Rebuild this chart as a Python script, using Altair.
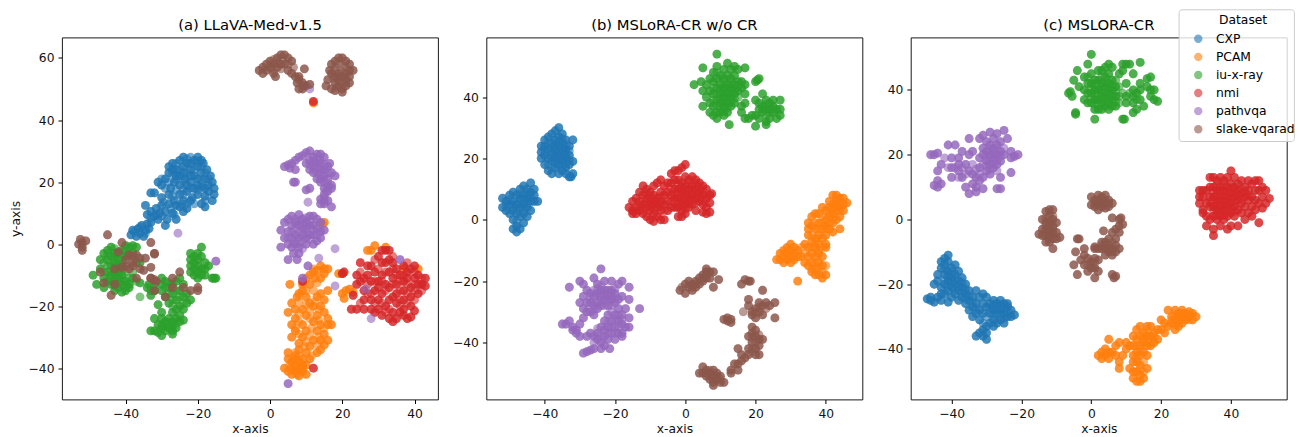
import altair as alt
import pandas as pd

DATASETS = ["CXP", "PCAM", "iu-x-ray", "nmi", "pathvqa", "slake-vqarad"]
COLORS = ["#1f77b4", "#ff7f0e", "#2ca02c", "#d62728", "#9467bd", "#8c564b"]

A_CXP = [(-38.5,3),(-38,4.5),(-37,2.5),(-36.5,5),(-36,3.5),(-35,2.5),(-35.5,6),(-34.5,4.5),(-34,6.5),(-33.5,5),(-33,7),(-34,9.5),(-33,10.5),(-32,9),(-31,8),(-30.5,10),(-31.5,11.5),(-30,12.5),(-29,10.5),(-28.5,8),(-29,6),(-28,13),(-27,10),(-26,8),(-26.5,14),(-25,12),(-24,10.5),(-23,11.5),(-22,14),(-25,16),(-28,16),(-30,15),(-33,16.5),(-32,16.5),(-34.5,12.5),(-31,20),(-30,19),(-29,21),(-28,23),(-27.5,18),(-26.5,20),(-28,25),(-27,26),(-26,24),(-25,27),(-25,22),(-25,19),(-24,25),(-24,28),(-23,26),(-23.5,21),(-23,17),(-22,24),(-22,20),(-21.5,15),(-21,27),(-21,22),(-21,18),(-20,28),(-20,25),(-20,21),(-20,16),(-19,27),(-19,23),(-19,18.5),(-19,13),(-18.5,26),(-18,21),(-18,15.5),(-18,12),(-17.5,24),(-17,19),(-17,17),(-16.5,22),(-16,14),(-16,20),(-15.5,18),(-15.5,16),(-26,12.5),(-24,14),(-27,24),(-22,26),(-20,19),(-24,23),(-22,22),(-18,18),(-23,19),(-26,22)]
A_CXP_FILL = [(-37.5,4),(-36,5.5),(-34.5,3.5),(-33,8.5),(-31.5,9.5),(-30,9),(-29.5,13.5),(-27.5,11.5),(-26.5,9.5),(-24.5,13),(-23,13),(-21,13),(-27,15.5),(-24,16),(-26,17.5),(-24,18),(-29,18),(-28,20),(-30,21),(-26,21),(-24,20.5),(-22,18),(-20,17.5),(-18,14),(-27,22.5),(-25,24),(-23,23),(-21,24),(-19,25),(-19,20.5),(-17,21),(-26,26),(-23,27.5),(-22,28),(-20,26.5),(-18,23)]
A_PCAM = [(12,45.5),(15,7),(14.5,6.5),(27,-2),(28,-2),(29,-0.5),(32,-1),(37,-8),(41,-8),(19,-9.5),(20,-9.5),(20,-16),(21,-15),(22,-14.5),(23,-15.5),(20.5,-17.5),(5.5,-13),(14,-7),(15,-8),(16,-8),(13,-8.5),(12,-9),(11,-10),(10,-11),(12.5,-11),(14,-11),(9,-13),(11,-13),(15,-9.5),(8,-16),(9,-15),(10,-17),(7.5,-17),(14,-16),(16,-15),(13,-17),(11,-19),(6,-19),(7,-21),(9,-21),(12,-20),(14,-20),(15,-18),(5,-22),(7,-24),(10,-23),(13,-23),(15,-22),(16,-24),(6,-26),(9,-26),(12,-25),(14,-26),(16,-26),(17,-26),(7,-28),(10,-28),(13,-28),(15,-29),(6,-30),(9,-30),(12,-31),(14,-31),(16,-31),(8,-32),(11,-33),(15,-32.5),(8,-34),(10,-35),(13,-35),(14,-34),(5,-35),(7,-36),(9,-37),(11,-37),(6,-38),(8,-38),(10,-39),(4,-40),(5,-41),(6,-40),(7,-41),(8,-40),(9,-41),(10,-42),(6,-42),(8,-42.5),(9,-39),(5,-37),(7,-39)]
A_PCAM_FILL = [(12,-8),(13,-12.5),(10,-15),(12,-15),(8,-18.5),(10,-19.5),(12.5,-18.5),(8,-22.5),(11,-21.5),(13.5,-21),(8,-25),(11,-24),(13.5,-24.5),(7,-27),(11.5,-27),(15,-27),(8,-29),(11,-29.5),(13.5,-30),(10,-31.5),(13,-32.5),(9.5,-33),(7,-35),(11.5,-36),(8,-36),(6.5,-37),(9,-40),(7.5,-42),(5.5,-39),(7,-37.5)]
A_XRAY = [(-49,-10),(-48,-13),(-47,-5),(-47,-8),(-46,-3),(-46,-11),(-46,-14),(-45,-2),(-45,-5),(-45,-9),(-45,-12),(-44,-1),(-44,-4),(-44,-7),(-44,-10),(-44,-13),(-43,-3),(-43,-6),(-43,-9),(-43,-12),(-43,-15),(-42,-5),(-42,-8),(-42,-11),(-42,-14),(-41,-2),(-41,-7),(-41,-10),(-41,-13),(-41,-15.5),(-40,-0.5),(-40,-4),(-40,-12),(-40,-15),(-39,-1),(-39,-13),(-39,-14),(-38,-0.5),(-38,-3),(-38,-11),(-37,-1),(-37,-6),(-36,-6),(-36,-12.5),(-36,-17),(-34,-14),(-33.5,-13),(-33,-15),(-33,-16.5),(-32,-13),(-32,-15),(-30,-11),(-30,-13),(-29,-12),(-30,-15),(-28,-14),(-29,-17),(-27,-13),(-27,-16),(-26,-12),(-26,-18),(-25,-15),(-25,-11),(-25,-20),(-24,-17),(-24,-13),(-24,-21),(-23,-19),(-23,-16),(-22,-18),(-31,-19.5),(-32,-24),(-30,-22),(-28,-19),(-27,-22),(-26,-21),(-30,-24),(-29,-25),(-28,-24),(-27,-25),(-26,-24),(-25,-23),(-25,-25),(-31,-26),(-30,-27),(-29,-28),(-28,-27),(-27,-28),(-26,-27),(-33,-28),(-32,-28),(-31,-28.5),(-30,-29.5),(-27,-29),(-24,-24.5),(-22,-3),(-22,-5),(-22,-7),(-22,-9),(-21,-4),(-21,-6),(-21,-8),(-21,-10),(-20,-5),(-20,-7),(-20,-9),(-20,-11),(-19,-1),(-20,-3),(-19,-4),(-19,-8),(-19,-10),(-18,-6),(-18,-8),(-18,-10),(-17,-7),(-16,-11),(-15.5,-11),(-15,-11)]
A_XRAY_FILL = [(-46,-6),(-46,-9),(-45,-7),(-45,-3.5),(-44,-11.5),(-43,-1.5),(-43,-4.5),(-43,-7.5),(-43,-10.5),(-43,-13.5),(-42,-3),(-42,-6.5),(-42,-9.5),(-42,-12.5),(-41,-4.5),(-41,-8.5),(-41,-11.5),(-40,-2),(-40,-9),(-40,-13.5),(-39,-3),(-39,-11),(-38,-9),(-37,-12),(-28,-16),(-27,-18),(-26,-15),(-25,-17),(-28,-12.5),(-24,-19),(-29,-14),(-27,-20),(-29,-26.5),(-28,-25.5),(-27,-26.5),(-30,-26),(-26,-25.5)]
A_NMI = [(12,46),(12,-40),(9,-12),(20,-9.5),(20.5,-9),(25,-6),(27,-7),(27,-10),(28,-7),(30,-4),(31,-2),(32,-2),(33,-2),(32,-6),(33,-5),(34,-6),(31,-6),(24,-10),(24,-13),(25,-12),(26,-11),(26,-15),(23,-16.5),(26,-18),(28,-12),(29,-9),(30,-12),(29,-15),(28,-18),(30,-18),(31,-10),(32,-13),(31,-16),(33,-9),(34,-11),(33,-14),(33,-18),(32,-20),(35,-8),(36,-10),(35,-13),(35,-16),(35,-19),(34,-22),(37,-7),(38,-9),(37,-12),(37,-15),(37,-18),(37,-21),(39,-8),(40,-11),(39,-14),(39,-17),(39,-20),(41,-10),(41,-13),(41,-16),(42,-13),(43,-11),(43,-13.5),(40,-7),(24,-21),(22.5,-21),(26,-21),(28,-21),(30,-21),(31,-23),(33,-24),(34,-25),(35,-24),(38,-24),(39,-23.5),(40,-21.5),(29,-22),(36,-22),(37,-23),(30,-14),(34,-17),(38,-11)]
A_NMI_FILL = [(25,-9),(27,-13),(27,-16),(25,-19),(29,-12),(29,-19),(31,-12),(31,-19),(32,-9),(32,-15),(33,-21),(34,-13),(34,-8),(36,-12),(36,-15),(36,-18),(36,-20),(38,-13),(38,-16),(38,-19),(38,-6),(40,-9),(40,-13),(40,-15),(40,-18),(42,-11),(42,-15),(32,-22),(29,-5),(34,-4),(28,-16),(30,-8),(35,-10),(37,-10)]
A_PATH = [(-25.5,3.5),(-15,-5.5),(11,50),(10,51),(5,-45),(26.5,-14.5),(28,-24),(36,-5),(18,-1.5),(13.5,-4.5),(10.5,-7),(9,-11),(18,-13.5),(4,25),(5,25.5),(5.5,24.5),(6,26),(7,27),(7,24),(8,28),(9,28.5),(10,29.5),(11,30),(11,27),(10,26),(12,28),(13,29),(14,29),(15,28),(11,24),(12,25),(13,26),(14,26),(12,23),(13,23),(14,24),(15,24),(16,25),(16.5,26),(13,21),(14,21),(15,22),(16,21),(17,23),(18,22),(16,18.5),(15,18),(14,20),(15,16),(16,17),(17,18),(17,19),(14,14.5),(15,14),(16,14),(15,13),(14,13),(17,12),(7,20),(6.5,20),(10,17.5),(11,18),(10.5,13.5),(3,4.5),(4,7),(5,8),(6,9),(8,9.5),(9,8),(10,7),(11,9),(12,9),(13,8),(14,7),(4,2),(5,4),(6,6),(7,7),(8,6),(9,5),(10,5),(11,6),(12,6),(13,5),(14,4),(15,4.5),(5,0),(6,2),(7,3),(8,2),(9,3),(10,2),(11,3),(12,3),(13,1),(14,2),(6,-1),(7,0),(8,-1),(10,0),(12,0),(3,-1),(6.5,-3),(8,-3),(5,-5),(7.5,-5)]
A_PATH_FILL = [(13,27.5),(14,27),(12,26.5),(11,25.5),(13,24.5),(15,25.5),(14,22.5),(15,20),(16,23),(16,19.5),(15.5,17),(15,15),(6,4),(7,5),(8,7.5),(8,4),(9,6.5),(10,8.5),(10,3.5),(11,7.5),(11,1.5),(12,4.5),(13,3),(8,0.5),(9,1),(6.5,0.5),(7,8),(5,2),(9,-1.5)]
A_SLAKE = [(-3,56),(-2,55),(-2,57),(-1,58),(-1,56),(0,59),(0,57),(1,55),(1,58),(2,60),(2,57),(3,61),(3,58),(1.5,54),(4,61),(4,58),(5,60),(5,56),(6,59),(6,55),(7,54),(8,54),(8,53),(7.5,52),(9,52),(9,50),(8,50),(9.5,51),(9.5,56.5),(11,51.5),(15.5,51),(16,53),(17,50),(18,52),(18,49.5),(19,51),(19,53),(20,50),(20,49),(21,51),(21,53),(22,52),(22,54),(21,55),(22,56),(23,56),(17,55),(16.5,56),(17,58),(18,59),(19,60),(20,60),(21,59),(22,58),(20,54),(19,55),(18,54),(-53,0),(-52.5,1.5),(-52,-1),(-52,-2),(-52,0.5),(-51,1),(-45,3),(-41,0.5),(-33,0.5),(-32,-3),(-32,-3.2),(-42,-2.5),(-40,-5),(-39,-3.5),(-38,-4),(-38,-6),(-37,-3.5),(-40,-7),(-38,-7),(-41,-7.5),(-39,-8),(-43,-8),(-47,-9),(-36,-4.5),(-36,-8),(-34.5,-4.5),(-35,-8.5),(-46,-12.5),(-43,-13),(-44,-16.5),(-33,-7.5),(-33,-11),(-32,-11.5),(-32,-15),(-37,-11),(-29,-17),(-27,-11),(-27,-14),(-25,-9),(-24,-14),(-22,-15),(-20,-14),(-20,-15),(-33,-11),(-31.5,-12)]
A_SLAKE_FILL = [(0.5,56.5),(2,58.5),(3,56.5),(3.5,59.5),(5,58),(6.5,57),(1,59.5),(18,57),(19,58),(20,57.5),(21,57),(18,56),(20,52),(18.5,50.5),(17.5,53.5),(19.5,54),(21,52),(20,55.5)]

B_CXP = [(-52,7),(-52,4),(-51,6),(-51,3),(-50,8),(-50,5),(-50,2),(-49,9),(-49,6),(-49,3),(-49,0),(-49,-3),(-48,8),(-48,5),(-48,2),(-48,-2),(-48,-4),(-47,10),(-47,7),(-47,4),(-47,-3),(-47,1),(-46,11),(-46,8),(-46,5),(-46,2),(-46,-1),(-45,10),(-45,7),(-45,4),(-45,1),(-44,12),(-44,9),(-44,6),(-44,3),(-43,10),(-43,8),(-43,6),(-42,6),(-41,20),(-41,22),(-41,24),(-40,18),(-40,21),(-40,24),(-40,26),(-39,20),(-39,23),(-39,27),(-39,16),(-38,19),(-38,22),(-38,25),(-38,28),(-38,15),(-37,17),(-37,20),(-37,23),(-37,26),(-37,29),(-36,15),(-36,18),(-36,21),(-36,24),(-36,27),(-36,30),(-35,16),(-35,19),(-35,22),(-35,25),(-35,28),(-34,17),(-34,20),(-34,23),(-34,26),(-34,15),(-33,14),(-33,18),(-33,21),(-33,24),(-32,15),(-32,19),(-32,26),(-32.5,14)]
B_CXP_FILL = [(-51,4.5),(-50,6.5),(-49,4.5),(-48,3.5),(-47,5.5),(-47,8.5),(-46,3.5),(-46,6.5),(-45,5.5),(-45,8.5),(-44,7.5),(-48,-0.5),(-40,22.5),(-39,18),(-39,25),(-38,17),(-38,20.5),(-38,23.5),(-37,18.5),(-37,21.5),(-37,24.5),(-36,19.5),(-36,22.5),(-36,25.5),(-35,17.5),(-35,20.5),(-35,23.5),(-35,26.5),(-34,18.5),(-34,21.5),(-34,24.5),(-33,19.5),(-33,22.5)]
B_PCAM = [(32,-20),(26,-13),(27,-11),(27,-13),(28,-10),(28,-12),(28,-14),(29,-9),(29,-11),(29,-13),(30,-8),(30,-10),(30,-12),(30,-14),(31,-9),(31,-11),(31,-13),(32,-10),(32,-12),(33,-12),(34,-8),(34,-14),(35,-5),(35,-9),(35,-12),(35,-15),(36,-7),(36,-11),(36,-14),(36,-17),(37,-3),(37,-6),(37,-9),(37,-12),(37,-16),(37,-18),(38,-1),(38,-5),(38,-8),(38,-11),(38,-14),(38,-18),(39,-3),(39,-6),(39,-12),(39,-15),(39,-19),(40,-2),(40,-5),(40,-8),(40,-18),(35,-1),(35,-3),(36,1),(36,-2),(37,2),(38,2),(40,0),(40,3),(40,-9),(41,1),(41,4),(41,-3),(42,2),(42,5),(42,8),(42,-1),(43,3),(43,6),(43,8),(43,0),(44,4),(44,7),(44,1),(45,5),(45,7),(45,3),(46,5.5),(41,6),(39,4),(44,-3),(42,-4)]
B_PCAM_FILL = [(36,-5),(37,-1),(38,-3),(39,-1),(39,1),(40,-3),(41,-1),(36,-9),(37,-7.5),(38,-10),(39,-9),(38,-16),(37,-14),(39,-17),(40,-15),(41,2.5),(42,4),(43,4.5),(44,5.5),(42,0.5),(44,3),(43,7),(34,-11),(33,-9),(36,-16)]
B_XRAY = [(9,54),(2.5,44),(5,37),(5,49.5),(17,49.5),(4.5,45),(5,42),(6,44),(6,40),(7,46),(7,42),(7,38),(7,35),(8,48),(8,45),(8,41),(8,37),(8,34),(9,50),(9,46),(9,43),(9,39),(9,35),(9,33),(10,47),(10,44),(10,41),(10,38),(10,35),(11,49),(11,46),(11,43),(11,40),(11,37),(11,34),(12,51),(12,47),(12,44),(12,41),(12,38),(12,35),(12.5,31),(13,49),(13,46),(13,43),(13,40),(13,37),(14,50),(14,47),(14,44),(14,41),(14,38),(15,45),(15,42),(15,49),(16,45),(16,43),(16,37),(16,35),(17,41),(17,44),(17,38),(17,33),(18,33),(20,45),(20.5,45.5),(21,46),(19,34),(20,39),(20,30.5),(20,34),(21,38),(21,36),(21,33),(22,41),(22,37),(22,35),(23,39),(23,36),(23,32),(23,31),(24,38),(24,36),(24,33),(25,39),(25,37),(25,35),(26,36),(26,33),(27,39),(27,36),(27,34)]
B_XRAY_FILL = [(8,43),(8,39),(9,41),(9,37),(9,48),(10,42.5),(10,39.5),(10,36.5),(11,44.5),(11,41.5),(11,38.5),(11,35.5),(12,42.5),(12,39.5),(12,36.5),(13,44.5),(13,41.5),(13,38.5),(14,42.5),(14,39.5),(15,43.5),(15,40),(22,36),(23,37.5),(24,35),(23,34),(25,36)]
B_NMI = [(-16,4),(-15,6),(-15,3),(-15,2),(-14,7),(-14,4),(-14,2),(-13,9),(-13,6),(-13,3),(-12,11),(-12,8),(-12,5),(-12,2),(-11,10),(-11,7),(-11,4),(-11,1),(-10,9),(-10,6),(-10,3),(-10,0),(-9,11),(-9,8),(-9,5),(-9,2),(-9,-0.5),(-8,12),(-8,7),(-8,4),(-8,1),(-7,13),(-7,9),(-7,6),(-7,3),(-7,0),(-6,11),(-6,8),(-6,5),(-6,0),(-5,12),(-5,9),(-5,6),(-5,3),(-4,15),(-4,12),(-4,8),(-4,4),(-3,16),(-3,13),(-3,10),(-3,7),(-3,4),(-2,16),(-2,13),(-2,10),(-2,7),(-2,4),(-2,1),(-1,17),(-1,12),(-1,9),(-1,6),(-1,3),(-1,1),(0,18),(0,14),(0,11),(0,8),(0,5),(0,2),(1,13),(1,10),(1,7),(1,4),(2,14),(2,11),(2,8),(2,5),(3,13),(3,10),(3,7),(3,3),(4,12),(4,9),(4,6),(5,11),(5,8),(5,5),(5,2.5),(6,10),(6,7),(6,4),(6,2),(7,8),(7,5.5),(7,2.5),(7.5,8.5)]
B_NMI_FILL = [(-13,4.5),(-12,3.5),(-11,8.5),(-11,5.5),(-10,7.5),(-10,4.5),(-9,6.5),(-9,3.5),(-8,5.5),(-7,7.5),(-7,4.5),(-6,3),(-4,10),(-4,6),(-3,8.5),(-3,5.5),(-2,11.5),(-2,8.5),(-2,5.5),(-1,10.5),(-1,7.5),(-1,4.5),(0,9.5),(0,6.5),(0,3.5),(1,11.5),(1,8.5),(1,5.5),(2,9.5),(2,6.5),(3,11.5),(3,8.5),(3,5.5),(4,10.5),(4,7.5),(5,9.5),(5,6.5)]
B_PATH = [(-24,-16),(-33,-22),(-30,-20),(-29,-21),(-28,-23),(-26,-19),(-25,-21),(-24,-23),(-23,-20),(-22,-23),(-21,-20),(-18,-20),(-19,-21),(-16,-22),(-30,-27),(-29,-25),(-28,-27),(-27,-24),(-27,-27),(-26,-25),(-26,-28),(-25,-24),(-25,-27),(-25,-29),(-24,-25),(-24,-28),(-23,-23),(-23,-26),(-22,-28),(-22,-25),(-21,-26),(-21,-23),(-20,-24),(-20,-27),(-19,-26),(-18,-25),(-16,-26),(-13,-29),(-29,-29),(-28,-30),(-29,-32),(-27,-30),(-26,-31),(-19,-29),(-20,-31),(-18,-31),(-17,-29),(-16,-32),(-22,-31),(-23,-33),(-21,-33),(-20,-35),(-19,-33),(-18,-34),(-17,-35),(-16,-35),(-24,-35),(-23,-36),(-22,-35),(-21,-37),(-19,-37),(-18,-37),(-18,-38),(-35,-34),(-34,-34),(-33,-33),(-32,-35),(-30,-34),(-32,-36),(-31,-37),(-30,-38),(-28,-38),(-27,-37),(-26,-38),(-25,-37),(-25,-39),(-24,-40),(-23,-38),(-23,-41),(-22,-39),(-21.5,-42),(-20,-39),(-24,-42),(-26,-42),(-27,-42.5),(-28,-43),(-29,-43.5),(-31,-36)]
B_PATH_FILL = [(-27,-25.5),(-26,-23),(-25,-22.5),(-24,-26.5),(-24,-21.5),(-23,-24.5),(-23,-28),(-22,-24),(-22,-26.5),(-21,-24.5),(-21,-28),(-20,-25.5),(-20,-22.5),(-26,-29.5),(-21,-30),(-20,-32.5),(-19,-31),(-18,-32.5),(-22,-33.5),(-21,-35),(-19,-35),(-22,-37),(-20,-37),(-25,-35.5),(-26,-40),(-24,-38)]
B_SLAKE = [(-1.5,-23),(-1,-22),(0,-24),(0,-21),(1,-22),(1,-20),(2,-23),(2,-21),(3,-20),(3,-22),(4,-21),(4,-19),(5,-20),(5,-18),(6,-19),(6,-17),(6,-16),(7,-17),(7,-19),(8,-17),(8,-22),(9.5,-19.5),(16,-21),(17,-19.5),(18,-20),(18.5,-20),(22,-23),(18,-26),(16.5,-30),(18,-28),(19,-30),(19,-31),(20,-29),(20,-32),(21,-27),(21,-30),(22,-31),(22,-28),(23,-27),(24,-28),(25.5,-27),(25.5,-32),(11,-32.5),(12,-32),(12,-33),(13,-32.5),(13,-33.5),(18,-38),(19,-35),(19,-37),(19,-40),(20,-36),(20,-38),(20,-42),(21,-39),(21,-41),(21,-44),(22,-39),(20,-44),(18,-42),(18,-44),(15,-42),(16,-44),(17,-45),(16,-46),(15,-47),(14,-47),(15,-49),(13,-49),(13,-50),(4,-50),(5,-48),(5,-50),(6,-51),(6,-49),(7,-52),(7,-50),(8,-49),(8,-53),(8,-51),(9,-50),(9,-52),(10,-51),(10,-53),(11,-53),(8,-54)]
B_SLAKE_FILL = [(2,-22),(3,-21),(5,-19),(6,-18),(20,-30.5),(21,-28.5),(23,-29),(19,-38.5),(20,-40),(21,-37.5),(19,-42),(7,-51),(8,-52),(9,-51),(6,-50),(7,-49),(10,-52),(19,-43)]

C_CXP = [(-47,-24.5),(-46,-25),(-46,-24),(-45,-25.5),(-44,-24),(-43,-25),(-41,-25.5),(-45,-20),(-44,-19),(-44,-17),(-43,-15),(-43,-13),(-43,-21),(-43,-23),(-42,-12),(-42,-14),(-42,-17),(-42,-20),(-42,-23),(-41,-11),(-41,-13),(-41,-16),(-41,-19),(-41,-22),(-40,-15),(-40,-18),(-40,-21),(-40,-24),(-39,-14),(-39,-17),(-39,-20),(-39,-23),(-38,-19),(-38,-22),(-38,-25),(-38,-16),(-37,-18),(-37,-21),(-37,-24),(-36,-20),(-36,-23),(-36,-26),(-35,-22),(-35,-25),(-35,-28),(-34,-24),(-34,-27),(-34,-30),(-33,-22),(-33,-26),(-33,-29),(-33,-36),(-32,-24),(-32,-28),(-32,-31),(-32,-35),(-31,-23),(-31,-26),(-31,-29),(-31,-34),(-31,-36),(-30,-24),(-30,-27),(-30,-33),(-30,-37),(-30,-35),(-29,-26),(-29,-29),(-29,-32),(-28,-25),(-28,-28),(-28,-31),(-28,-33),(-27,-26),(-27,-29),(-27,-32),(-26,-25),(-26,-28),(-26,-31),(-25,-26),(-25,-29),(-25,-32),(-24,-27),(-24,-30),(-24,-26),(-23,-28),(-23,-30),(-22,-29.5)]
C_CXP_FILL = [(-42,-15.5),(-42,-18.5),(-41,-17.5),(-41,-20.5),(-40,-16.5),(-40,-19.5),(-39,-18.5),(-39,-21.5),(-38,-20.5),(-37,-19.5),(-37,-22.5),(-36,-21.5),(-36,-24.5),(-35,-23.5),(-34,-25.5),(-33,-27.5),(-29,-27.5),(-28,-26.5),(-28,-29.5),(-27,-27.5),(-26,-26.5),(-26,-29.5),(-25,-27.5),(-25,-30.5),(-24,-28.5),(-30,-30),(-31,-32)]
C_PCAM = [(2,-42),(3,-41),(3,-43),(4,-40),(4,-42),(5,-37),(5,-41),(5,-43),(6,-41),(7,-39),(7,-42),(8,-46),(8,-44),(8,-38),(9,-42),(10,-40),(10,-38),(11,-39),(11,-46),(12,-36),(12,-39),(12,-42),(12,-44),(12,-47),(12,-49),(13,-34),(13,-37),(13,-41),(13,-44),(13,-47),(13,-50),(14,-33),(14,-36),(14,-39),(14,-42),(14,-45),(14,-48),(14,-50),(15,-35),(15,-38),(15,-41),(15,-49),(16,-33),(16,-36),(16,-39),(16,-42),(16,-46),(17,-33),(17,-36),(17,-39),(18,-35),(18,-38),(19,-34),(19,-37),(20,-31),(20,-34),(21,-32),(21,-35),(22,-33),(22,-28),(23,-30),(23,-32),(24,-28),(24,-31),(24,-34),(25,-29),(25,-31),(25,-33),(26,-28),(26,-30),(26,-32),(27,-29),(27,-31),(28,-28.5),(28,-30),(29,-29),(29,-31),(30,-30)]
C_PCAM_FILL = [(15,-37),(16,-37.5),(15,-44),(14,-40.5),(13,-39),(13,-42.5),(14,-46.5),(15,-47),(17,-37.5),(18,-36.5),(24,-29.5),(25,-30),(26,-29),(25,-32),(27,-30),(24,-32.5),(23,-31),(28,-31),(16,-34.5)]
C_XRAY = [(-6.5,39),(-6,39.5),(-5.5,38),(-4.5,33),(-4.5,32.5),(-5,43),(-4,46),(-3.5,41),(-2,40),(-2,37),(-2,44),(-1,48),(-1,42),(-1,39),(-1,36),(0,51),(0,45),(0,42),(0,39),(0,36),(1,43),(1,40),(1,37),(1,34),(1,31),(2,46),(2,43),(2,40),(2,37),(2,34),(3,46),(3,42),(3,39),(3,36),(3,34),(4,47),(4,44),(4,41),(4,38),(4,35),(5,48),(5,45),(5,42),(5,39),(5,36),(5,34),(6,47),(6,43),(6,40),(6,37),(6,35),(7,41),(7,38),(7,35),(8,45),(9,31),(9.5,31),(9,46),(9,48),(10,48),(10,42),(10,38),(10,36),(11,48),(12,45),(12,40),(12,38),(12,36),(12,33),(13,34),(13,39),(14,48.5),(14,42),(14,40),(14,37),(15,35),(16,43.5),(16,41),(17,44),(17,38),(17,40),(18,37),(18,40),(19,36.5)]
C_XRAY_FILL = [(-1,44),(0,40.5),(0,37.5),(1,41.5),(1,38.5),(1,35.5),(2,41.5),(2,38.5),(2,35.5),(3,44),(3,40.5),(3,37.5),(4,42.5),(4,39.5),(4,36.5),(5,40.5),(5,37.5),(6,41.5),(6,38.5),(7,43),(7,39.5),(7,36.5),(8,41),(8,38),(8,36),(9,39),(11,39),(13,37)]
C_NMI = [(31,9),(31,7),(31,5),(32,3),(32,9),(32,7),(32,2),(33,1),(33,5),(33,9),(33,-2),(34,13),(34,10),(34,7),(34,4),(34,0),(35,13),(35,10),(35,7),(35,4),(35,1),(35,-3),(35,-5),(36,12),(36,9),(36,6),(36,3),(36,0),(37,13),(37,10),(37,7),(37,4),(37,1),(37,-2),(38,12),(38,9),(38,6),(38,3),(38,0),(39,13),(39,10),(39,7),(39,4),(39,1),(39,-3),(40,15),(40,11),(40,8),(40,5),(40,2),(40,-2),(41,13),(41,10),(41,7),(41,4),(41,1),(42,-2),(42,9),(42,6),(42,3),(42,11),(43,12),(43,8),(43,5),(43,2),(44,10),(44,7),(44,4),(44,0),(45,12),(45,9),(45,6),(45,2),(46,11),(46,7),(46,4),(46,1),(47,12),(47,9),(47,6),(47,3),(48,12),(48,9),(48,5),(48,-1),(49,10),(49,7),(49,3.5),(50,9),(50,5),(51,6.5)]
C_NMI_FILL = [(34,5.5),(35,8.5),(35,5.5),(35,2.5),(36,10.5),(36,7.5),(36,4.5),(36,1.5),(37,8.5),(37,5.5),(37,2.5),(38,10.5),(38,7.5),(38,4.5),(38,1.5),(39,8.5),(39,5.5),(39,2.5),(40,9.5),(40,6.5),(40,3.5),(41,8.5),(41,5.5),(41,2.5),(42,7.5),(43,6.5),(43,9.5),(44,8.5),(45,7.5)]
C_PATH = [(-46,20),(-45,20),(-44,20.5),(-45,10.5),(-44,10),(-44,12),(-44,15),(-43,11),(-43,17),(-41,23),(-40,19),(-40,16),(-40,13),(-39,23),(-38,19),(-38,17),(-38,15),(-37,21),(-37,13),(-36,10),(-36,17),(-35,25),(-35,20),(-35,15),(-35,8),(-34,14),(-34,11),(-34,21),(-33,13),(-33,10),(-32,25),(-32,19),(-32,16),(-32,12),(-31,26),(-31,22),(-31,20),(-31,13),(-31,9.5),(-30,24),(-30,21),(-30,18),(-30,15),(-29,27),(-29,23),(-29,20),(-29,17),(-29,14),(-28,25),(-28,22),(-28,19),(-28,16),(-27,26.5),(-27,23),(-27,20),(-27,17),(-26,24),(-26,21),(-26,18),(-26,13),(-26,9.5),(-25,27.5),(-25,20),(-24,25),(-23,21),(-23,19),(-23,14.5),(-22,19.5),(-21,20),(-27,9.5),(-33,8.5)]
C_PATH_FILL = [(-30,19.5),(-30,16.5),(-29,21.5),(-29,18.5),(-28,20.5),(-28,17.5),(-27,21.5),(-27,18.5),(-27,15),(-29,15.5),(-31,17),(-32,14),(-33,15.5),(-34,17),(-36,14),(-37,16),(-38,13),(-39,16),(-41,16),(-42,19),(-26,19.5),(-25,22)]
C_SLAKE = [(-15,-4.5),(-14,-3),(-14,-5),(-14,0),(-13,2.5),(-13,-1),(-13,-3),(-13,-5),(-13,-7),(-12,3),(-12,1),(-12,-1),(-12,-3),(-12,-5),(-12,-7),(-11,3),(-11,0),(-11,-2),(-11,-4),(-11,-6),(-11,-9),(-10,-1),(-10,-4),(-10,-6),(-9,-5.5),(-4,-6),(-3.5,-6),(-4.5,-10),(-5,-14),(-4,-17),(-3,-12.5),(-2,-9),(-2,-11),(-2,-14),(-1,-12),(-1,-16),(0,-13),(0,-15),(1,-9),(1,-12),(1,-15),(1,-18),(2,-12.5),(2,-16),(0,7),(0,4.5),(1,6),(1,4),(2,7.5),(2,5),(2,3),(3,7),(3,5),(3,4),(4,7.5),(4,5),(4,3.5),(5,6),(5,4),(6,5),(3.5,-3.5),(3,-7),(1,-8.5),(2,-9),(3,-9),(4,-7),(4,-9),(4,-11),(5,-6),(5,-8),(5,-10),(6,-4),(6,-9),(6,-11),(6,-17),(7,-3),(7,-6),(7,-8),(7,-10),(7,-17.5),(6.5,-18),(8,-2),(8,-4),(8,-9),(6,0.5),(8,0),(8.5,0.5),(9,-1.5)]
C_SLAKE_FILL = [(-13,0.5),(-12,-2),(-12,-4),(-11,1),(-11,-3),(-13,-2),(-12,-6),(2,6),(3,6),(4,6),(1,5),(5,5),(0,-14),(1,-13.5),(-1,-14),(6,-7),(5,-9),(3,-8),(6,-10),(4,-8)]

# Isolated pale dots in the reference are single points; every other listed point reads as an overplotted pair.
SINGLE = {(-25.5,3.5),(11,50),(28,-24),(18,-13.5),(13.5,-4.5),(26.5,-14.5),(18,-1.5),(-36,-17),(10.5,13.5),(16.5,-30),(-1,-22)}
FILL = {"A": [A_CXP_FILL, A_PCAM_FILL, A_XRAY_FILL, A_NMI_FILL, A_PATH_FILL, A_SLAKE_FILL],
        "B": [B_CXP_FILL, B_PCAM_FILL, B_XRAY_FILL, B_NMI_FILL, B_PATH_FILL, B_SLAKE_FILL],
        "C": [C_CXP_FILL, C_PCAM_FILL, C_XRAY_FILL, C_NMI_FILL, C_PATH_FILL, C_SLAKE_FILL]}

PANELS = [
    ("(a) LLaVA-Med-v1.5", [A_CXP, A_PCAM, A_XRAY, A_NMI, A_PATH, A_SLAKE], "A", (-57.6, 46.5), (-50.1, 66.6), "y-axis"),
    ("(b) MSLoRA-CR w/o CR", [B_CXP, B_PCAM, B_XRAY, B_NMI, B_PATH, B_SLAKE], "B", (-56.6, 50.4), (-58.6, 59.4), None),
    ("(c) MSLORA-CR", [C_CXP, C_PCAM, C_XRAY, C_NMI, C_PATH, C_SLAKE], "C", (-51.7, 56.0), (-55.6, 56.2), None),
]

FONT = "DejaVu Sans"


def points(groups, key, xdom, ydom, ytitle, legend):
    rows = []
    for name, pts, extra in zip(DATASETS, groups, FILL[key]):
        for x, y in pts:
            rows.append({"x": x, "y": y, "Dataset": name})
            if (x, y) not in SINGLE:
                rows.append({"x": x, "y": y, "Dataset": name})
        rows += [{"x": x, "y": y, "Dataset": name} for x, y in extra]
    return (
        alt.Chart(pd.DataFrame(rows))
        .mark_circle(size=78, opacity=0.6, strokeWidth=0)
        .encode(
            x=alt.X("x:Q", title="x-axis", scale=alt.Scale(domain=list(xdom), nice=False, zero=False),
                    axis=alt.Axis(values=[-40, -20, 0, 20, 40], grid=False, domain=False, tickColor="black",
                                  tickSize=4, labelPadding=4, titlePadding=3, labelFlush=False)),
            y=alt.Y("y:Q", title=ytitle, scale=alt.Scale(domain=list(ydom), nice=False, zero=False),
                    axis=alt.Axis(values=[-40, -20, 0, 20, 40, 60], grid=False, domain=False, tickColor="black",
                                  tickSize=4, labelPadding=4, titlePadding=6, labelFlush=False)),
            color=alt.Color("Dataset:N", scale=alt.Scale(domain=DATASETS, range=COLORS), legend=legend),
        )
    )


def title(text, offset):
    return alt.TitleParams(text, fontSize=14.8, fontWeight="normal", font=FONT, offset=offset)


legend = alt.Legend(
    orient="none", legendX=281.3, legendY=-23.2, title="Dataset", titleFont=FONT, titleFontSize=12.3,
    titleFontWeight="normal", titleAnchor="middle", titleAlign="center", titlePadding=6,
    labelFont=FONT, labelFontSize=12.3, labelOffset=11.5, symbolSize=70, symbolOpacity=0.6, symbolStrokeWidth=0,
    rowPadding=5.1, padding=0, symbolOffset=0,
)

# The legend's box: it runs up to the right edge of the page.
legend_box = (
    alt.Chart(pd.DataFrame({"box": [0]}))
    .mark_rect(fill="white", fillOpacity=0.8, stroke="#cccccc", strokeWidth=1, cornerRadius=3)
    .encode(x=alt.value(268.3), x2=alt.value(383.6), y=alt.value(-27.7), y2=alt.value(104))
)

t, g, k, xd, yd, yt = PANELS[0]
panel_a = points(g, k, xd, yd, yt, None).properties(width=376, height=362, title=title(t, 5))
t, g, k, xd, yd, yt = PANELS[1]
panel_b = points(g, k, xd, yd, yt, None).properties(width=376, height=362, title=title(t, 5))
t, g, k, xd, yd, yt = PANELS[2]
panel_c = alt.layer(points(g, k, xd, yd, yt, legend), legend_box).properties(width=376, height=362, title=title(t, -23))

chart = (
    alt.hconcat(panel_a, panel_b, panel_c, spacing=48.4, bounds="flush")
    .resolve_legend(color="independent")
    .resolve_scale(color="shared")
    .properties(padding={"left": 0, "top": 0.5, "right": 0, "bottom": 0})
    .configure_view(stroke="black", strokeWidth=0.9)
    .configure_axis(labelFont=FONT, labelFontSize=12.3, labelColor="#111", titleFont=FONT, titleFontSize=12.3,
                    titleFontWeight="normal", titleColor="#111")
)

chart.save("out.html", embed_options={"renderer": "svg", "actions": False})
